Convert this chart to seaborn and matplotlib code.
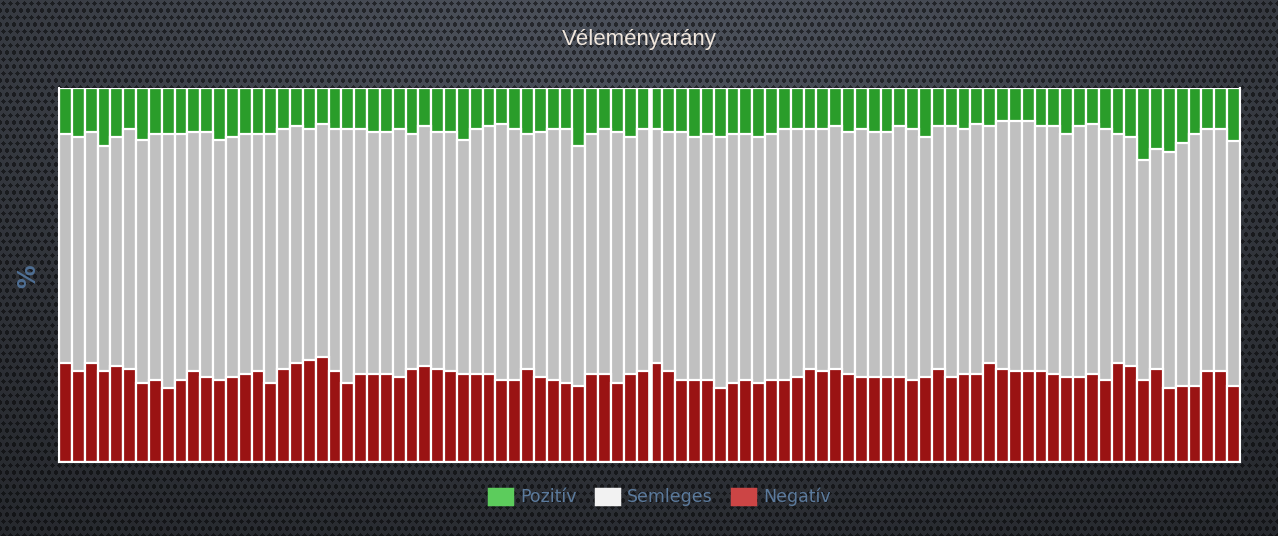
import matplotlib
matplotlib.use('Agg')

import numpy as np
import pandas as pd
import matplotlib.pyplot as plt
import seaborn as sns
from matplotlib.patches import Patch

# share of each sentiment per period (in %)
negativ = [26.6, 24.2, 26.6, 24.2, 25.7, 25.0, 21.1, 21.9, 19.7, 21.9,
           24.2, 22.8, 21.9, 22.8, 23.5, 24.2, 21.1, 25.0, 26.6, 27.3,
           28.2, 24.2, 21.1, 23.5, 23.5, 23.5, 22.8, 25.0, 25.7, 25.0,
           24.2, 23.5, 23.5, 23.5, 21.9, 21.9, 25.0, 22.8, 21.9, 21.1,
           20.4, 23.5, 23.5, 21.1, 23.5, 24.2,
           26.6, 24.2, 21.9, 21.9, 21.9, 19.7, 21.1, 21.9, 21.1, 21.9,
           21.9, 22.8, 25.0, 24.2, 25.0, 23.5, 22.8, 22.8, 22.8, 22.8,
           21.9, 22.8, 25.0, 22.8, 23.5, 23.5, 26.6, 25.0, 24.2, 24.2,
           24.2, 23.5, 22.8, 22.8, 23.5, 21.9, 26.6, 25.7, 21.9, 25.0,
           19.7, 20.4, 20.4, 24.2, 24.2, 20.4]
semleges = [61.1, 62.6, 61.7, 60.3, 61.2, 64.0, 65.0, 65.8, 68.0, 65.8,
            64.1, 65.5, 64.2, 64.0, 64.2, 63.5, 66.6, 64.0, 63.3, 61.7,
            62.3, 64.8, 67.9, 65.5, 64.8, 64.8, 66.2, 62.6, 64.1, 63.3,
            64.1, 62.6, 65.5, 66.4, 68.6, 67.1, 62.6, 65.5, 67.1, 67.9,
            64.1, 64.1, 65.5, 67.2, 63.3, 64.8,
            62.4, 64.1, 66.4, 64.9, 65.7, 67.1, 66.5, 65.7, 65.7, 65.7,
            67.1, 66.2, 64.0, 64.8, 64.9, 64.8, 66.2, 65.5, 65.5, 67.1,
            67.1, 64.0, 64.9, 67.1, 65.5, 67.0, 63.3, 66.2, 67.0, 67.0,
            65.7, 66.4, 64.8, 67.1, 67.0, 67.1, 61.0, 61.1, 58.8, 58.6,
            63.2, 64.8, 67.2, 64.8, 64.8, 65.5]
pozitiv = [12.3, 13.2, 11.7, 15.5, 13.1, 11.0, 13.9, 12.3, 12.3, 12.3,
           11.7, 11.7, 13.9, 13.2, 12.3, 12.3, 12.3, 11.0, 10.1, 11.0,
           9.5, 11.0, 11.0, 11.0, 11.7, 11.7, 11.0, 12.4, 10.2, 11.7,
           11.7, 13.9, 11.0, 10.1, 9.5, 11.0, 12.4, 11.7, 11.0, 11.0,
           15.5, 12.4, 11.0, 11.7, 13.2, 11.0,
           11.0, 11.7, 11.7, 13.2, 12.4, 13.2, 12.4, 12.4, 13.2, 12.4,
           11.0, 11.0, 11.0, 11.0, 10.1, 11.7, 11.0, 11.7, 11.7, 10.1,
           11.0, 13.2, 10.1, 10.1, 11.0, 9.5, 10.1, 8.8, 8.8, 8.8,
           10.1, 10.1, 12.4, 10.1, 9.5, 11.0, 12.4, 13.2, 19.3, 16.4,
           17.1, 14.8, 12.4, 11.0, 11.0, 14.1]
split_after = 46  # number of periods before the marker line

labels = ['Pozitív', 'Semleges', 'Negatív']
bar_colors = ['#2a9d2a', '#c0c0c0', '#9a1313']
legend_colors = ['#5ccc5c', '#f2f2f2', '#cc4545']

sns.set_theme(style='dark')
plt.rcParams['font.family'] = ['DejaVu Sans']

W, H = 1278, 536
fig = plt.figure(figsize=(W / 100, H / 100), dpi=100)
fig.patch.set_facecolor('#2a2d33')

# dark perforated background with a soft glow behind the title
yy, xx = np.mgrid[0:H, 0:W]
glow = np.exp(-((xx - 639) / 750.0) ** 2 - ((yy - 10) / 400.0) ** 2)
lum = 0.15 + 0.17 * glow
dx = (xx + 3.5 * ((yy // 7) % 2)) % 7 - 3.0
dy = yy % 7 - 3.0
lum = np.where(dx ** 2 + dy ** 2 < 4.5, lum * 0.5, lum)
bg = np.clip(lum[..., None] * np.array([0.92, 0.98, 1.10]), 0, 1)
fig.figimage(bg, xo=0, yo=0, origin='upper', zorder=-10)

ax = fig.add_axes([59 / W, 1 - 462 / H, (1240 - 59) / W, (462 - 88) / H])
ax.set_facecolor('none')

df = pd.DataFrame({'period': range(len(negativ)),
                   'neg': negativ, 'neu': semleges, 'pos': pozitiv})
total = df['neg'] + df['neu'] + df['pos']
df['top'] = (df['neg'] + df['neu'] + df['pos']) / total * 100
df['mid'] = (df['neg'] + df['neu']) / total * 100
df['low'] = df['neg'] / total * 100

# stacked bars drawn as overlapping cumulative layers
for col, c in zip(['top', 'mid', 'low'], bar_colors):
    sns.barplot(data=df, x='period', y=col, color=c, saturation=1,
                width=1, edgecolor='white', linewidth=1.6, ax=ax)

ax.axvline(split_after - 0.5, color='white', lw=3.3)

ax.set_xlim(-0.5, len(negativ) - 0.5)
ax.set_ylim(0, 100)
ax.set_xticks([])
ax.set_yticks([])
ax.set_xlabel('')
ax.set_ylabel('')
ax.grid(False)
for side in ['left', 'right', 'bottom']:
    ax.spines[side].set_color('white')
    ax.spines[side].set_linewidth(1.5)
ax.spines['top'].set_visible(False)

fig.text(639 / W, 1 - 40 / H, 'Véleményarány', ha='center', va='center',
         fontsize=16, color='#f0e6dc', family=['Liberation Sans', 'DejaVu Sans'])
fig.text(28 / W, 1 - 276 / H, '%', rotation=90, ha='center', va='center',
         fontsize=17, fontweight='bold', color='#4f6f94')

handles = [Patch(facecolor=c, edgecolor=c, linewidth=2.5, joinstyle='round')
           for c in legend_colors]
leg = fig.legend(handles, labels, loc='center', ncol=3, frameon=False,
                 bbox_to_anchor=(660 / W, 1 - 497 / H),
                 handlelength=1.3, handleheight=1.0, handletextpad=0.5,
                 columnspacing=1.1, fontsize=12.5)
for t in leg.get_texts():
    t.set_color('#5b7a9c')

fig.savefig('out.png', dpi=100)
plt.close(fig)
